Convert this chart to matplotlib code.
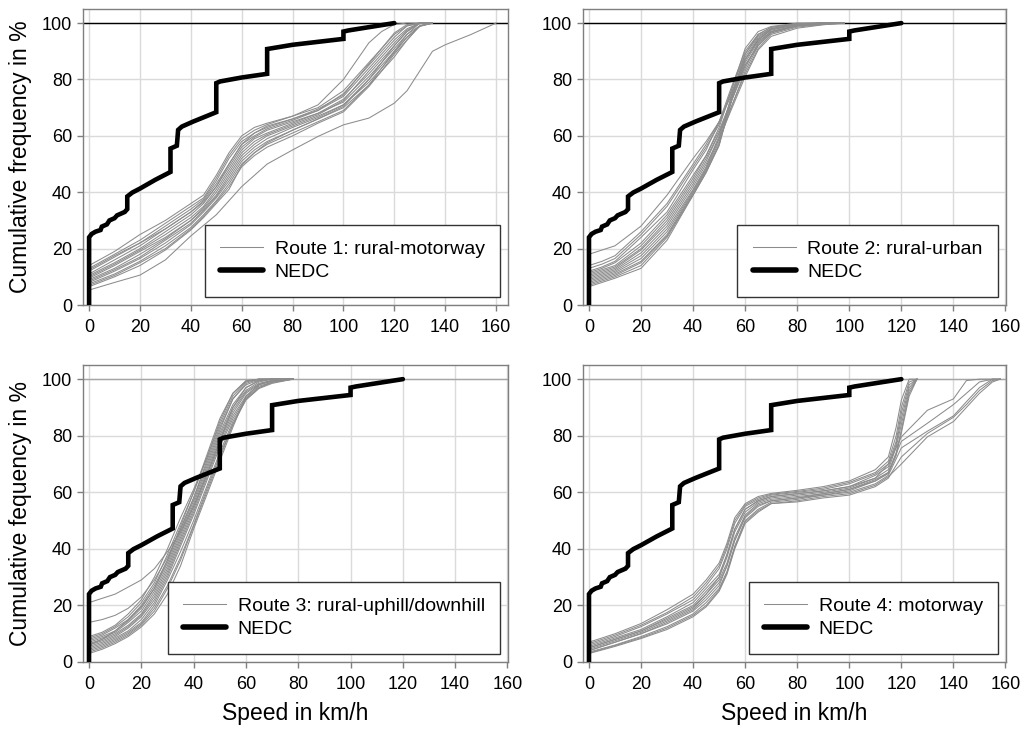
import matplotlib
matplotlib.use("Agg")
import matplotlib.pyplot as plt
from matplotlib.lines import Line2D

plt.rcParams['font.family'] = ['Liberation Sans', 'DejaVu Sans']

# ---------------- data ----------------
nedc_speed = [0, 0, 1, 2.5, 4.5, 5, 7, 8, 10, 11, 14, 15, 15, 17, 20, 26, 32, 32, 34.5, 35,
              36.5, 41, 50, 50, 51.5, 60, 70, 70, 72, 80, 100, 100, 102, 120]
nedc_pct = [0, 24, 25.2, 26, 26.6, 27.8, 28.6, 30, 30.8, 31.8, 33, 34, 38.5, 39.9, 41.3, 44.4, 47.2, 55.5, 56.5, 62.1,
            63.3, 65.1, 68.4, 78.7, 79.3, 80.7, 82, 90.8, 91.1, 92.3, 94.4, 97, 97.4, 100]

# Route 1: rural-motorway
route1_speed = [0, 10, 20, 30, 40, 45, 50, 55, 60, 65, 70, 80, 90, 100, 110, 115, 120, 125, 130, 135]
route1_runs = [
    [14, 19, 25, 30, 36, 39, 46, 54, 60, 63, 64.5, 67, 70, 76, 86, 91, 96, 99, 100, 100],
    [13, 18, 23, 29, 35, 38, 45, 53, 59, 62, 64, 67, 71, 80, 93, 97, 99.5, 100, 100, 100],
    [12, 17, 22, 28, 34, 37.5, 44, 52, 58, 61, 63, 66, 69, 74, 84, 89, 94, 98, 100, 100],
    [11, 16, 21, 27, 33, 37, 43, 50, 57, 60, 62.5, 65.5, 69, 75, 85, 90, 95, 99, 100, 100],
    [10.5, 15, 20, 26, 32, 36, 42, 49, 56, 59.5, 62, 65, 68, 73, 82, 87, 92, 97, 100, 100],
    [10, 14.5, 19.5, 25, 31, 35, 41, 48, 55, 59, 61, 64.5, 68, 72, 81, 86, 91, 96, 99, 100],
    [9.5, 14, 19, 24, 30, 34.5, 40, 47, 54, 58, 60.5, 64, 67.5, 72.5, 83, 88, 93, 97.5, 100, 100],
    [9, 13, 18, 23.5, 30, 34, 39, 46, 53, 57, 60, 63.5, 67, 71, 80, 85, 90, 95, 99, 100],
    [8.5, 12.5, 17, 23, 29, 33.5, 38.5, 45, 52, 56, 59, 63, 66.5, 71, 79, 84, 89.5, 95, 98.8, 100],
    [8, 12, 16.5, 22, 28.5, 33, 38, 44, 51, 55, 58, 62, 66, 70, 78, 83, 89, 94, 99, 100],
    [7.5, 11, 15.5, 21, 27.5, 32, 37, 43, 50, 54, 57, 61, 65, 69, 78, 84, 90, 96, 100, 100],
    [7, 10.5, 15, 20, 27, 31.5, 36.5, 42, 49, 53, 56, 60, 64.5, 68.5, 77.5, 83, 88, 94, 99, 100],
    [12.5, 17.5, 22, 27, 33, 36.5, 42, 50, 57, 61, 63.5, 66, 69.5, 74.5, 85.5, 91, 96.5, 99.5, 100, 100],
    [6.5, 10, 14, 19.5, 26.6, 31, 36, 41, 49.5, 54, 57.5, 62, 66, 70.5, 80, 86, 92, 97, 100, 100],
]
route1_slow_speed = [0, 10, 20, 30, 40, 50, 60, 70, 80, 90, 100, 110, 120, 125, 130, 135, 140, 150, 160]
route1_slow_pct = [5.3, 8, 10.6, 16, 24.5, 32, 42, 50, 55, 59.8, 63.9, 66.3, 71.6, 76, 83, 90, 92.3, 95.9, 100]

# Route 2: rural-urban
route2_speed = [0, 5, 10, 20, 30, 40, 45, 50, 55, 60, 65, 70, 80, 90, 98]
route2_runs = [
    [18, 19.5, 21, 28, 39, 52, 58, 65, 75, 85, 92, 96.5, 99, 99.8, 100],
    [14, 15.5, 17.5, 26, 36, 50, 57, 65, 76, 87, 94, 97.5, 99.5, 100, 100],
    [13, 14.5, 16.5, 25, 35, 49, 56, 64, 77, 89, 95.5, 98, 99.7, 100, 100],
    [12, 13.5, 15.5, 24, 33, 48, 55, 65, 78, 90, 96, 98.5, 99.8, 100, 100],
    [11.5, 13, 15, 22, 32, 46, 53, 62, 73, 84, 93, 97, 99, 99.6, 100],
    [11, 12.5, 14, 21, 31, 45, 53, 63, 77, 91, 97, 98.8, 100, 100, 100],
    [10.5, 12, 13.5, 20, 30, 44, 52, 61, 71, 82, 91, 96, 98.6, 99.5, 100],
    [10, 11.5, 13, 19.5, 29, 43, 51, 61, 74, 87, 94.5, 97.8, 99.5, 100, 100],
    [9.5, 11, 12.5, 18.5, 28, 42, 50, 59, 70, 81, 90.5, 95.3, 98.2, 99.4, 100],
    [9, 10.5, 12, 17.5, 27, 41, 49, 60, 73, 86, 93.5, 97, 99.2, 100, 100],
    [8.5, 10, 11.5, 16.5, 26, 40.5, 48.5, 59, 75, 88, 95, 98, 99.6, 100, 100],
    [8, 9.5, 11, 15.5, 25, 40, 48, 58, 71, 83, 92, 96.5, 99, 99.8, 100],
    [7.5, 9, 10.5, 15, 24.5, 39.5, 47.5, 57, 73, 85, 92.5, 97, 99.3, 100, 100],
    [7, 8.5, 10, 14, 24, 39, 47, 56.5, 74, 87, 94, 97.8, 99.6, 100, 100],
    [6.5, 8, 9.5, 13, 23, 39, 47, 57, 75, 89, 96, 98.5, 99.8, 100, 100],
]

# Route 3: rural-uphill/downhill
route3_speed = [0, 5, 10, 15, 20, 25, 30, 35, 40, 45, 50, 55, 60, 65, 70, 78]
route3_runs = [
    [21, 22.5, 24, 26.5, 29, 33, 39, 46, 55, 66, 78, 90, 97, 99.5, 100, 100],
    [14, 15, 16.5, 19, 23, 29, 37, 47, 58, 70, 82, 93, 98.5, 100, 100, 100],
    [9, 10.5, 13, 17, 22, 30, 40, 51, 61, 72, 84, 94, 99, 100, 100, 100],
    [8.5, 10, 12.5, 16, 21, 28, 38, 49, 60, 72, 85, 95, 99.4, 100, 100, 100],
    [8, 9.5, 12, 15, 20, 27, 36, 47, 58, 71, 83, 93, 98, 99.7, 100, 100],
    [7.5, 9, 11, 14.5, 19, 26, 35, 46, 57, 69, 81, 91, 97, 99.4, 100, 100],
    [7, 8.5, 10.5, 14, 18, 25, 34, 45, 56, 68, 80, 90, 96, 99, 100, 100],
    [6.5, 8, 10, 13, 17, 24, 33, 44, 55, 67, 79, 89, 95.5, 98.5, 99.6, 100],
    [6, 7.5, 9.5, 12.5, 16.5, 23, 32, 43, 54, 66, 78, 88, 95, 98.2, 99.5, 100],
    [5.5, 7, 9, 12, 16, 22, 31, 42, 53, 65, 77, 87, 94, 98, 99.3, 100],
    [5, 6.5, 8.5, 11, 15, 21, 30, 41, 52, 64, 76, 86, 93.5, 97.5, 99, 100],
    [4.5, 6, 8, 10.5, 14, 20, 29, 39, 50, 62, 74, 85, 93, 97, 98.8, 100],
    [4, 5.5, 7.5, 10, 13.5, 19, 27, 37, 48.5, 61, 73, 84, 92.6, 96.7, 98.5, 100],
    [3.5, 5, 7, 9.5, 13, 18, 26, 36, 48, 60, 72, 84, 93, 97, 99, 100],
    [3, 4.5, 6.5, 9, 12.4, 17, 24, 34, 47, 59, 71, 83, 94, 98, 99.5, 100],
    [6, 8, 11, 15, 19.5, 26, 36, 48, 60, 73, 86, 95, 99.4, 100, 100, 100],
]

# Route 4: motorway
route4_fast_speed = [0, 10, 20, 30, 40, 45, 50, 53, 56, 60, 65, 70, 80, 90, 100, 110, 115, 118, 120, 123, 126]
route4_fast_runs = [
    [7, 10, 13.6, 18.5, 24, 29, 35, 42, 51, 56, 58.5, 59.6, 60.7, 62, 64, 68, 72.5, 83, 92.6, 100, 100],
    [6.5, 9.5, 13, 17.5, 23, 28, 34, 41, 50, 55.5, 58, 59.3, 60.3, 61.5, 63.5, 67, 71, 80, 90, 99, 100],
    [6, 9, 12.5, 17, 22, 27, 33, 40, 49, 55, 57.5, 59, 60, 61, 63, 66.5, 70, 78, 88, 98, 100],
    [5.5, 8.5, 11.5, 16, 21, 26, 31, 38, 47, 54, 57, 58.5, 59.5, 60.5, 62, 66, 69, 77, 86, 97, 100],
    [5, 8, 11, 15.5, 20, 25, 30, 37, 46, 53, 56.5, 58, 59, 60, 61.5, 65, 68, 76, 84, 96, 100],
    [4.5, 7.5, 10.5, 14.5, 19, 24, 29, 35, 44, 52, 56, 57.5, 58.5, 59.5, 61, 64.5, 67, 74, 82, 95, 100],
    [4, 7, 10, 14, 18.5, 23, 28, 34, 43, 51.5, 55.5, 57, 58, 59, 60.5, 64, 66.6, 73, 81, 94, 100],
]
route4_slow_speed = [0, 10, 20, 30, 40, 45, 50, 53, 56, 60, 65, 70, 80, 90, 100, 110, 115, 120, 130, 140, 145, 150, 155, 158]
route4_slow_runs = [
    [5, 8, 11, 15, 19.5, 24, 30, 38, 47, 54, 57, 58.5, 59.5, 60.5, 62, 65, 70, 79.6, 89, 93, 99.5, 100, 100, 100],
    [4, 7, 10, 13.5, 18, 22, 27, 34, 43, 51, 55, 57, 58, 59.5, 61, 64, 67, 78, 84.4, 91, 95, 99, 100, 100],
    [3.5, 6, 9, 12.5, 17, 21, 26, 32, 41, 50, 54, 56.5, 57.5, 59, 60, 63, 66, 75.7, 81.6, 87, 92, 97, 100, 100],
    [3, 5.5, 8.3, 11.5, 16, 19.5, 25, 31, 40, 49, 53, 56, 56.6, 58, 59, 62, 65, 72.5, 80.8, 86.5, 91, 96, 99.5, 100],
    [3.2, 5.8, 8.6, 12, 16.5, 20, 25.5, 31.5, 40.5, 49.5, 53.5, 56, 57, 58.5, 59.5, 62.5, 65.5, 70, 79.6, 85, 90, 95, 99, 100],
]

route_labels = ['Route 1: rural-motorway', 'Route 2: rural-urban',
                'Route 3: rural-uphill/downhill', 'Route 4: motorway']
x_ticks = [0, 20, 40, 60, 80, 100, 120, 140, 160]
y_ticks = [0, 20, 40, 60, 80, 100]

# ---------------- figure ----------------
W, H = 1021, 734
fig = plt.figure(figsize=(W / 100, H / 100), dpi=100)

def frac(l, r, t, b):
    return [l / W, 1 - b / H, (r - l) / W, (b - t) / H]

axes = [
    fig.add_axes(frac(83, 508, 9, 305)),
    fig.add_axes(frac(583, 1006, 9, 305)),
    fig.add_axes(frac(83, 508, 365, 662)),
    fig.add_axes(frac(583, 1006, 365, 662)),
]
xlims = [(-2.4, 164.7), (-2.3, 160.2), (-2.3, 160.2), (-2.3, 160.2)]

GRAY = '#8c8c8c'
GLW = 0.75

def draw_runs(ax, xs, runs):
    for r in runs:
        ax.plot(xs, r, color=GRAY, lw=GLW, zorder=3)

draw_runs(axes[0], route1_speed, route1_runs)
axes[0].plot(route1_slow_speed, route1_slow_pct, color=GRAY, lw=GLW, zorder=3)
draw_runs(axes[1], route2_speed, route2_runs)
draw_runs(axes[2], route3_speed, route3_runs)
draw_runs(axes[3], route4_fast_speed, route4_fast_runs)
draw_runs(axes[3], route4_slow_speed, route4_slow_runs)

for i, ax in enumerate(axes):
    ax.plot(nedc_speed, nedc_pct, color='black', lw=3.3, zorder=5,
            solid_capstyle='round', solid_joinstyle='miter')
    ax.axhline(100, color='black' if i < 2 else '#a6a6a6', lw=1.0, zorder=2)
    ax.set_xlim(*xlims[i])
    ax.set_ylim(0, 105)
    ax.set_xticks(x_ticks)
    ax.set_yticks(y_ticks)
    ax.grid(True, color='#dadada', lw=1.0, zorder=0)
    ax.set_axisbelow(True)
    for s in ax.spines.values():
        s.set_color('#7f7f7f')
        s.set_linewidth(1.0)
    ax.tick_params(axis='both', direction='out', length=4, width=1, color='#7f7f7f',
                   labelsize=13, labelcolor='black')
    ax.tick_params(axis='x', pad=6)
    ax.tick_params(axis='y', pad=4)

    handles = [Line2D([], [], color=GRAY, lw=GLW),
               Line2D([], [], color='black', lw=4.0, solid_capstyle='round')]
    leg = ax.legend(handles, [route_labels[i], 'NEDC'], loc='lower right',
                    bbox_to_anchor=(0.982, 0.028), borderaxespad=0,
                    fontsize=14, frameon=True, fancybox=False,
                    handlelength=2.2, handletextpad=0.6, borderpad=0.8,
                    labelspacing=0.3)
    fr = leg.get_frame()
    fr.set_edgecolor('#333333')
    fr.set_linewidth(1.0)
    fr.set_alpha(1)
    leg.set_zorder(10)

axes[0].set_ylabel('Cumulative frequency in %', fontsize=16.5)
axes[2].set_ylabel('Cumulative fequency in %', fontsize=16.5)
for ax in (axes[0], axes[2]):
    ax.yaxis.set_label_coords(-51 / 425, 0.5)
axes[2].set_xlabel('Speed in km/h', fontsize=16.5)
axes[3].set_xlabel('Speed in km/h', fontsize=16.5)
axes[2].xaxis.set_label_coords(0.5, -40 / 297)
axes[3].xaxis.set_label_coords(0.5, -40 / 297)

fig.savefig('out.png', dpi=100)
